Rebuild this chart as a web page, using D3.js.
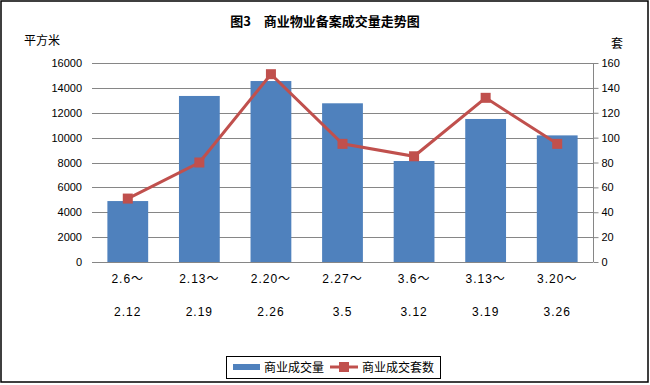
<!DOCTYPE html>
<html>
<head>
<meta charset="utf-8">
<script src="https://cdn.jsdelivr.net/npm/d3@7.9.0/dist/d3.min.js"></script>
<style>
  body { margin: 0; background: #fff; }
  svg { display: block; font-family: "Liberation Sans", Arial, sans-serif; }
</style>
</head>
<body>
<svg id="chart" width="650" height="385"></svg>
<script>
const weekStart = ["2.6～", "2.13～", "2.20～", "2.27～", "3.6～", "3.13～", "3.20～"];
const weekEnd = ["2.12", "2.19", "2.26", "3.5", "3.12", "3.19", "3.26"];
const areaValues = [4900, 13350, 14550, 12760, 8120, 11500, 10180];
const unitValues = [51, 80, 151, 95, 85, 132, 95];
const leftTicks = [0, 2000, 4000, 6000, 8000, 10000, 12000, 14000, 16000];
const rightTicks = [0, 20, 40, 60, 80, 100, 120, 140, 160];

const svg = d3.select('#chart');
const cjk = '"Noto Sans CJK SC", sans-serif';
const plot = { left: 92, right: 593, top: 63, bottom: 262 };

const x = d3.scaleBand().domain(weekStart).range([plot.left, plot.right]).paddingInner(0.43).paddingOuter(0.215);
const xc = d3.scaleBand().domain(weekStart).range([plot.left, plot.right]);
const yL = d3.scaleLinear().domain([0, 16000]).range([plot.bottom, plot.top]);
const yR = d3.scaleLinear().domain([0, 160]).range([plot.bottom, plot.top]);

// outer frame
svg.append('rect').attr('x', 1).attr('y', 1).attr('width', 647).attr('height', 381)
    .attr('fill', 'none').attr('stroke', '#000').attr('stroke-width', 1.5);

// title
svg.append('text').attr('x', 325).attr('y', 26).attr('text-anchor', 'middle')
    .style('font-family', cjk).style('font-size', '13px').style('font-weight', 'bold')
    .text('图3　商业物业备案成交量走势图');

svg.append('text').attr('x', 24).attr('y', 45).style('font-family', cjk).style('font-size', '12px').text('平方米');
svg.append('text').attr('x', 611).attr('y', 48).style('font-family', cjk).style('font-size', '12px').text('套');

// gridlines
svg.append('g').selectAll('line').data(leftTicks).enter().append('line')
    .attr('x1', plot.left).attr('x2', plot.right)
    .attr('y1', d => Math.round(yL(d)) + 0.5).attr('y2', d => Math.round(yL(d)) + 0.5)
    .attr('stroke', '#868686').attr('stroke-width', 1);

// left labels
svg.append('g').selectAll('text').data(leftTicks).enter().append('text')
    .attr('x', 82).attr('y', d => yL(d) + 4).attr('text-anchor', 'end')
    .style('font-size', '11px').text(d => d);

// right axis
const rightAxis = d3.axisRight(yR).tickValues(rightTicks).tickSize(5).tickPadding(3);
const ra = svg.append('g').attr('transform', `translate(${plot.right + 0.5},0)`).call(rightAxis);
ra.select('.domain').attr('stroke', '#868686').attr('d', `M0,${plot.top}V${plot.bottom}`);
ra.selectAll('.tick line').attr('stroke', '#868686');
ra.selectAll('.tick text').style('font-size', '11px').attr('fill', '#000')
    .style('font-family', '"Liberation Sans", Arial, sans-serif');

// bars
svg.append('g').selectAll('rect').data(areaValues).enter().append('rect')
    .attr('x', (d, i) => x(weekStart[i]))
    .attr('width', x.bandwidth())
    .attr('y', d => yL(d))
    .attr('height', d => plot.bottom - yL(d))
    .attr('fill', '#4F81BD');

// line
const line = d3.line().x((d, i) => xc(weekStart[i]) + xc.bandwidth() / 2).y(d => yR(d));
svg.append('path').datum(unitValues).attr('d', line)
    .attr('fill', 'none').attr('stroke', '#C0504D').attr('stroke-width', 3);
svg.append('g').selectAll('rect').data(unitValues).enter().append('rect')
    .attr('x', (d, i) => xc(weekStart[i]) + xc.bandwidth() / 2 - 5)
    .attr('y', d => yR(d) - 5)
    .attr('width', 10).attr('height', 10)
    .attr('fill', '#C0504D');

// x labels
const xl = svg.append('g').style('font-size', '12px').style('font-family', '"Liberation Sans", ' + cjk);
xl.selectAll('text.s').data(weekStart).enter().append('text').attr('class', 's')
    .attr('x', d => xc(d) + xc.bandwidth() / 2).attr('y', 283).attr('text-anchor', 'middle')
    .style('letter-spacing', '1px').text(d => d);
xl.selectAll('text.e').data(weekEnd).enter().append('text').attr('class', 'e')
    .attr('x', (d, i) => xc(weekStart[i]) + xc.bandwidth() / 2).attr('y', 316).attr('text-anchor', 'middle')
    .style('letter-spacing', '1px').text(d => d);

// legend
const lg = svg.append('g');
lg.append('rect').attr('x', 226.5).attr('y', 356.5).attr('width', 214).attr('height', 22)
    .attr('fill', '#fff').attr('stroke', '#000').attr('stroke-width', 1);
lg.append('rect').attr('x', 233).attr('y', 364).attr('width', 27).attr('height', 6).attr('fill', '#4F81BD');
lg.append('text').attr('x', 264).attr('y', 372).style('font-family', cjk).style('font-size', '12px').text('商业成交量');
lg.append('line').attr('x1', 330).attr('x2', 358).attr('y1', 367).attr('y2', 367)
    .attr('stroke', '#C0504D').attr('stroke-width', 3);
lg.append('rect').attr('x', 339).attr('y', 362).attr('width', 10).attr('height', 10).attr('fill', '#C0504D');
lg.append('text').attr('x', 362).attr('y', 372).style('font-family', cjk).style('font-size', '12px').text('商业成交套数');
</script>
</body>
</html>
